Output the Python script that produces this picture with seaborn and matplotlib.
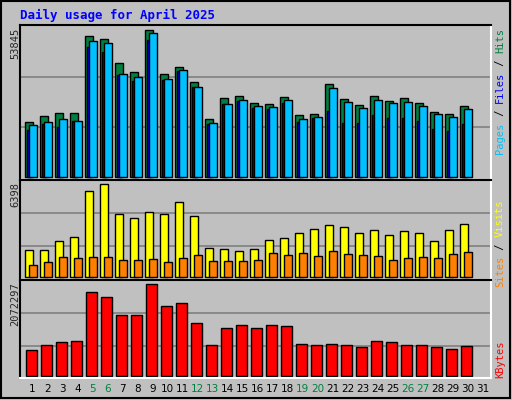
import matplotlib
matplotlib.use("Agg")
import matplotlib.pyplot as plt
import seaborn as sns
import pandas as pd
import numpy as np
from matplotlib.patches import Rectangle

days = list(range(1, 31))
hits = [19900,22100,23200,23200,51400,50300,41500,38200,53845,37500,40000,34600,21000,28700,29400,
        26900,26500,29100,22500,22900,33800,28300,26100,29400,27600,28700,26900,23600,22900,25800]
files = [18800,19900,21000,20300,49600,48900,37500,36400,52500,35700,39000,32700,19600,26500,28000,
         25800,25400,28000,21000,21800,32400,27200,25000,28000,26900,27200,25800,22900,21800,24700]
pages = [17100,19200,18200,20300,47500,45500,37100,35000,49900,35500,38600,32700,19200,26500,27900,
         25000,24700,27000,19900,21400,24000,19600,19600,22500,21400,21400,20300,17400,16600,19200]
visits = [1822,1822,2445,2722,5905,6398,4315,4038,4453,4315,5145,4176,1960,1891,1753,
          1891,2514,2653,2999,3276,3553,3414,2999,3207,2861,3138,2999,2445,3207,3622]
sites = [784,992,1338,1270,1338,1338,1131,1131,1200,992,1270,1477,1062,1062,1062,
         1131,1615,1477,1615,1408,1753,1546,1477,1408,1131,1270,1338,1270,1546,1684]
kbytes = [574800,688200,756300,779000,1890800,1777300,1368900,1368900,2072297,1573100,1641200,1187400,
          688200,1073900,1142000,1073900,1142000,1119300,710900,688200,710900,688200,642900,779000,
          756300,688200,688200,642900,597500,665600]
tick_days = list(range(1, 32))
weekend = [5, 6, 12, 13, 19, 20, 26, 27]
title = "Daily usage for April 2025"

sns.set_style("white")
plt.rcParams['font.family'] = ['DejaVu Sans']
BG = "#C0C0C0"
fig = plt.figure(figsize=(5.12, 4), dpi=100, facecolor=BG)
W, H = 512, 400

def ax_at(x0, y0, x1, y1):
    return fig.add_axes([x0 / W, 1 - y1 / H, (x1 - x0) / W, (y1 - y0) / H])

df = pd.DataFrame({"day": days, "hits": hits, "files": files, "pages": pages,
                   "visits": visits, "sites": sites, "kbytes": kbytes})
d = np.array(days, dtype=float)

def bars(ax, col, off, width, color):
    sns.barplot(x=d + off, y=df[col], native_scale=True, width=width, color=color,
                saturation=1, edgecolor="black", linewidth=1, ax=ax, errorbar=None)

def style(ax, ylim, grid):
    ax.set_facecolor(BG)
    ax.set_xlim(0.217, 31.617)
    ax.set_ylim(*ylim)
    for g in grid:
        ax.axhline(g, color="#808080", lw=1.2, zorder=0)
    ax.set_xticks([]); ax.set_yticks([])
    ax.set_xlabel(""); ax.set_ylabel("")
    for s in ["top", "left"]:
        ax.spines[s].set_color("black"); ax.spines[s].set_linewidth(1.5)
    for s in ["bottom", "right"]:
        ax.spines[s].set_color("white"); ax.spines[s].set_linewidth(1.5)
    ax.set_axisbelow(True)

ax1 = ax_at(20, 25, 491, 180)
bars(ax1, "hits", -0.185, 0.53, "#008040")
bars(ax1, "pages", -0.195, 0.27, "#0000FF")
bars(ax1, "files", 0.085, 0.53, "#00C0FF")
style(ax1, (-1209, 55566), [18200, 36500])

ax2 = ax_at(20, 180, 491, 280)
bars(ax2, "visits", -0.185, 0.55, "#FFFF00")
bars(ax2, "sites", 0.085, 0.5, "#FF8000")
style(ax2, (-228, 6675), [2105, 4390])

ax3 = ax_at(20, 280, 491, 378)
bars(ax3, "kbytes", -0.015, 0.69, "#FF0000")
style(ax3, (-52200, 2172200), [674000, 1416000])
ax3.spines["bottom"].set_color("white")

mono = "DejaVu Sans Mono"
def ftext(x, y, s, **kw):
    fig.text(x / W, 1 - y / H, s, **kw)

ftext(20, 15, title, color="#0000FF", fontsize=9, fontweight="bold", family=mono, va="center")
ftext(15, 28, "53845", rotation=90, fontsize=7.5, family=mono, ha="center", va="top")
ftext(15, 182, "6398", rotation=90, fontsize=7.5, family=mono, ha="center", va="top")
ftext(15, 282, "2072297", rotation=90, fontsize=7.5, family=mono, ha="center", va="top")

def stack(x, y, parts):
    for s, c in parts:
        ftext(x, y, s, rotation=90, fontsize=7.5, family=mono, color=c, ha="center", va="top")
        y += 6.3 * len(s)

stack(500, 28, [("Hits", "#008040"), (" / ", "black"), ("Files", "#0000FF"),
                (" / ", "black"), ("Pages", "#00C0FF")])
stack(500, 199, [("Visits", "#FFFF00"), (" / ", "black"), ("Sites", "#FF8000")])
stack(500, 341, [("KBytes", "#FF0000")])

for t in tick_days:
    xpx = 20 + 15 * (t + 0.05 - 0.217)
    ftext(xpx, 389, str(t), fontsize=7.5, ha="center", va="center",
          color="#008040" if t in weekend else "black")

fig.patches.append(Rectangle((0.002, 0.004), 0.994, 0.994, transform=fig.transFigure,
                             fill=False, edgecolor="black", lw=1.5))
fig.savefig("out.png", dpi=100, facecolor=BG)
